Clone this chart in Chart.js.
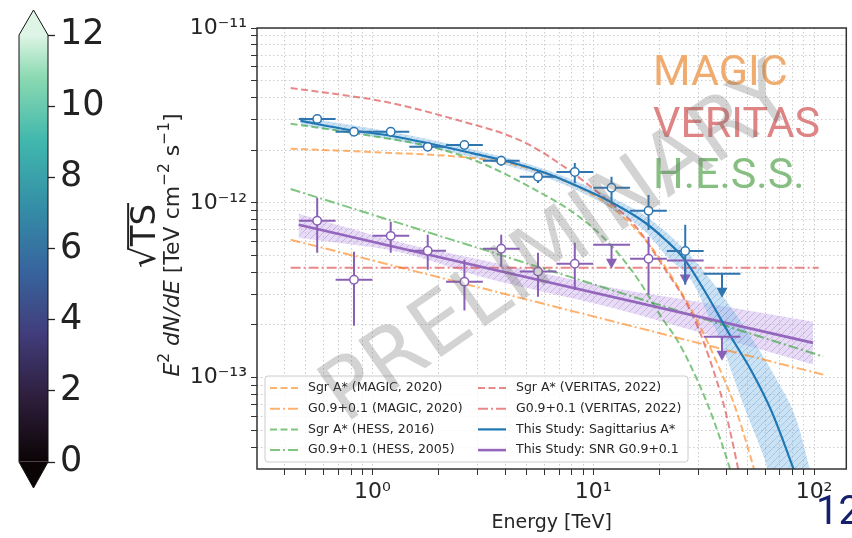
<!DOCTYPE html>
<html>
<head>
<meta charset="utf-8">
<script src="https://cdn.jsdelivr.net/npm/chart.js@4.4.1/dist/chart.umd.min.js"></script>
<style>
  html, body { margin: 0; padding: 0; background: #fff; }
  #wrap { position: relative; width: 852px; height: 538px; overflow: hidden; }
  #cbar { position: absolute; left: 0; top: 0; }
  #sed { position: absolute; left: 150px; top: 0; }
  #page { position: absolute; left: 816px; top: 491px; font: 40px Roboto, sans-serif; color: #14206b; line-height: 1; }
</style>
</head>
<body>
<div id="wrap">
  <canvas id="cbar" width="160" height="538"></canvas>
  <canvas id="sed" width="702" height="538"></canvas>
  <div id="page">12</div>
</div>
<script>
// ---- flux points (E in TeV, E^2 dN/dE in TeV cm^-2 s^-1) ----
const binEdges = [0.464, 0.681, 1.0, 1.468, 2.154, 3.162, 4.642, 6.813, 10.0, 14.68, 21.54, 31.62, 46.42];
const binCenters = [0.562, 0.825, 1.21, 1.78, 2.61, 3.83, 5.62, 8.25, 12.1, 17.8, 26.1, 38.3];

// Sagittarius A*
const sgrFlux = [3.02e-12, 2.55e-12, 2.55e-12, 2.09e-12, 2.14e-12, 1.74e-12, 1.41e-12, 1.50e-12, 1.22e-12, 9.0e-13, 5.3e-13, null];
const sgrLow  = [2.86e-12, 2.42e-12, 2.42e-12, 1.98e-12, 2.03e-12, 1.63e-12, 1.30e-12, 1.30e-12, 1.01e-12, 7.0e-13, 3.4e-13, null];
const sgrHigh = [3.18e-12, 2.69e-12, 2.69e-12, 2.20e-12, 2.26e-12, 1.86e-12, 1.53e-12, 1.69e-12, 1.41e-12, 1.11e-12, 7.48e-13, null];
const sgrUL   = [null, null, null, null, null, null, null, null, null, null, null, 3.93e-13];

// SNR G0.9+0.1
const snrFlux = [7.89e-13, 3.63e-13, 6.47e-13, 5.32e-13, 3.54e-13, 5.46e-13, 4.04e-13, 4.48e-13, null, 4.79e-13, null, null];
const snrLow  = [5.18e-13, 1.98e-13, 5.18e-13, 4.14e-13, 2.42e-13, 4.31e-13, 2.90e-13, 3.18e-13, null, 2.98e-13, null, null];
const snrHigh = [1.07e-12, 5.25e-13, 7.78e-13, 6.56e-13, 4.72e-13, 6.56e-13, 5.18e-13, 5.91e-13, null, 6.39e-13, null, null];
const snrUL   = [null, null, null, null, null, null, null, null, 5.76e-13, null, 4.67e-13, 1.71e-13];

// ---- model curves ----
const magicSgrE = [0.426, 1.0, 2.52, 4.09, 7.27, 12.2, 17.2, 24.2, 29.7, 36.5, 43.5, 52.3, 55.1];
const magicSgrF = [2.04e-12, 1.95e-12, 1.83e-12, 1.69e-12, 1.35e-12, 9.36e-13, 6.15e-13, 3.31e-13, 2.09e-13, 1.20e-13, 7.01e-14, 3.31e-14, 2.61e-14];
const magicSnrE = [0.426, 110];
const magicSnrF = [6.15e-13, 1.04e-13];
const hessSgrE = [0.426, 1.0, 1.85, 3.10, 5.18, 8.66, 12.2, 16.0, 20.3, 24.2, 27.7, 33.0, 37.7, 41.3, 43.0];
const hessSgrF = [2.83e-12, 2.41e-12, 2.09e-12, 1.69e-12, 1.23e-12, 8.3e-13, 5.61e-13, 3.63e-13, 2.23e-13, 1.61e-13, 1.16e-13, 7.01e-14, 4.42e-14, 3.10e-14, 2.61e-14];
const hessSnrE = [0.426, 110];
const hessSnrF = [1.20e-12, 1.32e-13];
const veritasSgrE = [0.426, 1.143, 2.32, 4.72, 7.27, 11.4, 15.6, 21.2, 25.5, 29.7, 34.0, 39.3, 44.9, 46.3];
const veritasSgrF = [4.54e-12, 3.78e-12, 3.02e-12, 2.26e-12, 1.63e-12, 1.05e-12, 7.3e-13, 4.14e-13, 2.90e-13, 1.96e-13, 1.23e-13, 6.74e-14, 3.18e-14, 2.61e-14];
const veritasSnrE = [0.426, 105];
const veritasSnrF = [4.25e-13, 4.25e-13];

const sgrFitE = [0.472, 0.789, 1.228, 1.85, 2.79, 4.35, 6.17, 8.66, 12.2, 17.2, 21.2, 26.0, 32.9, 41.7, 52.3, 64.3, 80.6, 84.0];
const sgrFitF = [2.94e-12, 2.61e-12, 2.41e-12, 2.17e-12, 1.93e-12, 1.69e-12, 1.47e-12, 1.23e-12, 1.0e-12, 7.69e-13, 6.15e-13, 4.72e-13, 2.94e-13, 1.74e-13, 1.08e-13, 6.39e-14, 3.02e-14, 2.61e-14];
const sgrBandUpE = [0.472, 1.228, 2.80, 6.17, 12.2, 17.2, 26.0, 34.0, 48.2, 67.7, 83.1, 95.0, 98.0];
const sgrBandUpF = [3.10e-12, 2.54e-12, 2.03e-12, 1.54e-12, 1.07e-12, 8.43e-13, 5.39e-13, 3.63e-13, 1.96e-13, 9.74e-14, 5.75e-14, 3.10e-14, 2.61e-14];
const sgrBandLoE = [0.472, 1.228, 2.80, 6.17, 12.2, 17.2, 21.8, 27.7, 34.0, 37.7, 41.7, 48.2, 56.8, 61.1, 63.0, 75.0, 98.0];
const sgrBandLoF = [2.79e-12, 2.29e-12, 1.83e-12, 1.39e-12, 9.24e-13, 6.83e-13, 4.85e-13, 3.63e-13, 2.14e-13, 1.65e-13, 1.14e-13, 6.83e-14, 4.03e-14, 3.10e-14, 2.61e-14, 1.0e-14, 3.0e-15];

const snrFitE = [0.463, 99];
const snrFitF = [7.48e-13, 1.58e-13];
const snrBandE = [0.463, 1.361, 3.10, 12.16, 29.73, 99.0];
const snrBandUpF = [8.65e-13, 5.91e-13, 4.72e-13, 3.27e-13, 2.72e-13, 2.09e-13];
const snrBandLoF = [6.31e-13, 5.18e-13, 3.78e-13, 2.51e-13, 1.83e-13, 1.19e-13];

// ---- axes ----
const xGridTicks = [0.4, 0.5, 0.6, 0.7, 0.8, 0.9, 1, 2, 3, 4, 5, 6, 7, 8, 9, 10, 20, 30, 40, 50, 60, 70, 80, 90, 100];
const xMajorTicks = [1, 10, 100];
const xMajorLabels = ['10⁰', '10¹', '10²'];
const yGridTicks = [4e-14, 5e-14, 6e-14, 7e-14, 8e-14, 9e-14, 1e-13, 2e-13, 3e-13, 4e-13, 5e-13, 6e-13, 7e-13, 8e-13, 9e-13,
                    1e-12, 2e-12, 3e-12, 4e-12, 5e-12, 6e-12, 7e-12, 8e-12, 9e-12, 1e-11];
const yMajorTicks = [1e-13, 1e-12, 1e-11];
const yMajorLabels = ['10⁻¹³', '10⁻¹²', '10⁻¹¹'];

// colour bar
const cbTicks = [0, 2, 4, 6, 8, 10, 12];
const makoStops = [0, 0.15, 0.3, 0.45, 0.6, 0.75, 0.9, 1];
const makoColors = ['#0b0405', '#2e1e3c', '#413d7b', '#37659e', '#348fa7', '#40b7ad', '#8ad9b1', '#def5e5'];

const FONT = 'DejaVu Sans';
const ORANGE = 'rgba(255,127,14,0.6)';
const RED = 'rgba(214,39,40,0.55)';
const GREEN = 'rgba(44,160,44,0.6)';
const BLUE = '#1f77b4';
const PURPLE = '#9467bd';
const DASHED = [7, 3.5];
const DASHDOT = [10, 3, 2, 3];

function labelFor(v, majors, labels) {
  const i = majors.findIndex(m => Math.abs(Math.log10(m) - Math.log10(v)) < 1e-6);
  return i >= 0 ? labels[i] : '';
}

function curve(es, fs) {
  return es.map((e, i) => ({ x: e, y: fs[i] }));
}

function fluxPoints(flux, lo, hi) {
  const pts = [];
  binCenters.forEach((e, i) => {
    if (flux[i] == null) return;
    pts.push({ x: e, y: flux[i], yMin: lo[i], yMax: hi[i], xMin: binEdges[i], xMax: binEdges[i + 1] });
  });
  return pts;
}

function limitPoints(ul) {
  const pts = [];
  binCenters.forEach((e, i) => {
    if (ul[i] == null) return;
    pts.push({ x: e, y: ul[i], xMin: binEdges[i], xMax: binEdges[i + 1] });
  });
  return pts;
}

const sedCanvas = document.getElementById('sed');
const sedCtx = sedCanvas.getContext('2d');

function hatch(fill, line) {
  const c = document.createElement('canvas');
  c.width = 7; c.height = 7;
  const g = c.getContext('2d');
  g.fillStyle = fill;
  g.fillRect(0, 0, 7, 7);
  g.strokeStyle = line;
  g.lineWidth = 1;
  g.beginPath();
  g.moveTo(0, 7); g.lineTo(7, 0);
  g.moveTo(-2, 2); g.lineTo(2, -2);
  g.moveTo(5, 9); g.lineTo(9, 5);
  g.stroke();
  return sedCtx.createPattern(c, 'repeat');
}

function modelLine(label, es, fs, color, dash, width) {
  return {
    label: label,
    data: curve(es, fs),
    borderColor: color,
    borderWidth: width || 2,
    borderDash: dash,
    pointRadius: 0,
    fill: false,
    cubicInterpolationMode: 'monotone',
    inLegend: true,
    order: 3
  };
}

function bandEdge(es, fs, fillTo, pattern) {
  return {
    data: curve(es, fs),
    borderWidth: 0,
    borderColor: 'rgba(0,0,0,0)',
    pointRadius: 0,
    backgroundColor: pattern || 'rgba(0,0,0,0)',
    fill: fillTo,
    cubicInterpolationMode: 'monotone',
    order: 5
  };
}

const datasets = [
  { label: 'Sgr A* points', data: fluxPoints(sgrFlux, sgrLow, sgrHigh), showLine: false, errColor: '#2f75b0',
    pointRadius: 4.2, pointBackgroundColor: '#fff', pointBorderColor: '#2f75b0', pointBorderWidth: 1.5, order: 0 },
  { label: 'G0.9+0.1 points', data: fluxPoints(snrFlux, snrLow, snrHigh), showLine: false, errColor: '#8a60b6',
    pointRadius: 4.2, pointBackgroundColor: '#fff', pointBorderColor: '#8a60b6', pointBorderWidth: 1.5, order: 0 },
  { label: 'Sgr A* UL', data: limitPoints(sgrUL), showLine: false, errColor: '#2f75b0', upperLimit: true, pointRadius: 0, order: 1 },
  { label: 'G0.9+0.1 UL', data: limitPoints(snrUL), showLine: false, errColor: '#8a60b6', upperLimit: true, pointRadius: 0, order: 1 },

  modelLine('Sgr A* (MAGIC, 2020)', magicSgrE, magicSgrF, ORANGE, DASHED),
  modelLine('G0.9+0.1 (MAGIC, 2020)', magicSnrE, magicSnrF, ORANGE, DASHDOT),
  modelLine('Sgr A* (HESS, 2016)', hessSgrE, hessSgrF, GREEN, DASHED),
  modelLine('G0.9+0.1 (HESS, 2005)', hessSnrE, hessSnrF, GREEN, DASHDOT),
  modelLine('Sgr A* (VERITAS, 2022)', veritasSgrE, veritasSgrF, RED, DASHED),
  modelLine('G0.9+0.1 (VERITAS, 2022)', veritasSnrE, veritasSnrF, RED, DASHDOT),
  Object.assign(modelLine('This Study: Sagittarius A*', sgrFitE, sgrFitF, BLUE, [], 2.2), { order: 2 }),
  Object.assign(modelLine('This Study: SNR G0.9+0.1', snrFitE, snrFitF, PURPLE, [], 2.6), { order: 2 }),

  bandEdge(sgrBandUpE, sgrBandUpF, '+1', hatch('rgba(130,185,232,0.42)', 'rgba(80,140,200,0.32)')),
  bandEdge(sgrBandLoE, sgrBandLoF, false),
  bandEdge(snrBandE, snrBandUpF, '+1', hatch('rgba(195,165,232,0.4)', 'rgba(150,110,200,0.35)')),
  bandEdge(snrBandE, snrBandLoF, false)
];

// error bars and upper-limit arrows, drawn under each point set
const errorBars = {
  id: 'errorBars',
  beforeDatasetDraw(chart, args) {
    const ds = chart.data.datasets[args.index];
    if (!ds.errColor) return;
    const { ctx, scales: { x, y } } = chart;
    ctx.save();
    ctx.strokeStyle = ds.errColor;
    ctx.fillStyle = ds.errColor;
    ctx.lineWidth = 2;
    ds.data.forEach(p => {
      const px = x.getPixelForValue(p.x);
      const py = y.getPixelForValue(p.y);
      ctx.beginPath();
      ctx.moveTo(x.getPixelForValue(p.xMin), py);
      ctx.lineTo(x.getPixelForValue(p.xMax), py);
      if (ds.upperLimit) {
        ctx.moveTo(px, py);
        ctx.lineTo(px, py + 16);
        ctx.stroke();
        ctx.beginPath();
        ctx.moveTo(px - 5.5, py + 14);
        ctx.lineTo(px + 5.5, py + 14);
        ctx.lineTo(px, py + 24);
        ctx.closePath();
        ctx.fill();
      } else {
        ctx.moveTo(px, y.getPixelForValue(p.yMin));
        ctx.lineTo(px, y.getPixelForValue(p.yMax));
        ctx.stroke();
      }
    });
    ctx.restore();
  }
};

// text with math-style superscripts, drawn along the current x direction
function drawRich(ctx, parts, size, cx, cy) {
  const fontOf = p => (p[1] || 'normal') + ' ' + (p[2] ? size * 0.7 : size) + 'px "' + FONT + '"';
  let total = 0;
  parts.forEach(p => { ctx.font = fontOf(p); total += ctx.measureText(p[0]).width; });
  let tx = cx - total / 2;
  parts.forEach(p => {
    ctx.font = fontOf(p);
    ctx.fillText(p[0], tx, p[2] ? cy - size * 0.38 : cy);
    tx += ctx.measureText(p[0]).width;
  });
}

// frame, legend, y title, experiment names, watermark
const overlay = {
  id: 'overlay',
  afterDraw(chart) {
    const { ctx, chartArea: a } = chart;
    ctx.save();
    ctx.strokeStyle = '#333';
    ctx.lineWidth = 1.5;
    ctx.strokeRect(a.left, a.top, a.right - a.left, a.bottom - a.top);

    // legend
    const items = chart.data.datasets.filter(d => d.inLegend);
    ctx.fillStyle = 'rgba(255,255,255,0.8)';
    ctx.strokeStyle = '#cccccc';
    ctx.lineWidth = 1;
    ctx.beginPath();
    ctx.roundRect(a.left + 8, 376, 423, 86, 3);
    ctx.fill();
    ctx.stroke();
    ctx.font = '12.5px "' + FONT + '"';
    ctx.textBaseline = 'middle';
    items.forEach((d, i) => {
      const col = Math.floor(i / 4);
      const row = i % 4;
      const hx = a.left + (col ? 221 : 13);
      const ty = 388 + row * 20.7;
      ctx.save();
      ctx.setLineDash(d.borderDash || []);
      ctx.strokeStyle = d.borderColor;
      ctx.lineWidth = d.borderWidth;
      ctx.beginPath();
      ctx.moveTo(hx, ty);
      ctx.lineTo(hx + 28, ty);
      ctx.stroke();
      ctx.restore();
      ctx.fillStyle = '#262626';
      ctx.fillText(d.label, hx + 38, ty);
    });

    // y axis title
    ctx.save();
    ctx.translate(21, 245);
    ctx.rotate(-Math.PI / 2);
    ctx.fillStyle = '#262626';
    ctx.textBaseline = 'middle';
    drawRich(ctx, [['E', 'italic'], ['2', 'normal', true], [' dN/dE', 'italic'], [' [TeV cm', 'normal'],
                   ['−2', 'normal', true], [' s', 'normal'], ['−1', 'normal', true], [']', 'normal']], 22, 0, 2);
    ctx.restore();

    // experiment names
    ctx.font = '43px Roboto';
    ctx.textBaseline = 'alphabetic';
    ctx.fillStyle = '#f0ac6e';
    ctx.fillText('MAGIC', 503, 85);
    ctx.fillStyle = '#de8484';
    ctx.fillText('VERITAS', 503, 137);
    ctx.fillStyle = '#87be82';
    ctx.fillText('H.E.S.S.', 503, 188);

    // watermark
    ctx.save();
    ctx.translate(410, 247);
    ctx.rotate(-35 * Math.PI / 180);
    ctx.font = '84px "' + FONT + '"';
    ctx.textAlign = 'center';
    ctx.textBaseline = 'middle';
    ctx.fillStyle = 'rgba(110,110,110,0.3)';
    ctx.fillText('PRELIMINARY', 0, 0);
    ctx.restore();
    ctx.restore();
  }
};

new Chart(sedCtx, {
  type: 'line',
  data: { datasets: datasets },
  options: {
    responsive: false,
    animation: false,
    events: [],
    layout: { padding: { left: 0, top: 28, right: 1, bottom: 0 } },
    plugins: { legend: { display: false }, tooltip: { enabled: false } },
    scales: {
      x: {
        type: 'logarithmic',
        min: 0.313,
        max: 140,
        afterBuildTicks: s => { s.ticks = xGridTicks.map(v => ({ value: v })); },
        afterFit: s => { s.height = 69; },
        ticks: {
          autoSkip: false, maxRotation: 0, minRotation: 0, padding: 4, color: '#262626',
          font: { family: FONT, size: 22 },
          callback: v => labelFor(v, xMajorTicks, xMajorLabels)
        },
        grid: { color: '#cccccc', lineWidth: 1, tickLength: 6, tickColor: '#333', tickWidth: 1 },
        border: { display: false, dash: [1.5, 2.5] },
        title: { display: true, text: 'Energy [TeV]', color: '#262626', font: { family: FONT, size: 19 }, padding: { top: 0, bottom: 4 } }
      },
      y: {
        type: 'logarithmic',
        min: 3e-14,
        max: 1e-11,
        afterBuildTicks: s => { s.ticks = yGridTicks.map(v => ({ value: v })); },
        afterFit: s => { s.width = 107; },
        ticks: {
          autoSkip: false, padding: 4, color: '#262626',
          font: { family: FONT, size: 22 },
          callback: v => labelFor(v, yMajorTicks, yMajorLabels)
        },
        grid: { color: '#cccccc', lineWidth: 1, tickLength: 6, tickColor: '#333', tickWidth: 1 },
        border: { display: false, dash: [1.5, 2.5] }
      }
    }
  },
  plugins: [errorBars, overlay]
});

// ---- colour bar (sqrt TS) ----
const cbarOutline = {
  id: 'cbarOutline',
  afterDraw(chart) {
    const { ctx, chartArea: a } = chart;
    const mid = (a.left + a.right) / 2;
    ctx.save();
    ctx.fillStyle = makoColors[makoColors.length - 1];
    ctx.beginPath();
    ctx.moveTo(a.left, a.top); ctx.lineTo(mid, a.top - 25); ctx.lineTo(a.right, a.top);
    ctx.closePath(); ctx.fill();
    ctx.fillStyle = makoColors[0];
    ctx.beginPath();
    ctx.moveTo(a.left, a.bottom); ctx.lineTo(mid, a.bottom + 26); ctx.lineTo(a.right, a.bottom);
    ctx.closePath(); ctx.fill();
    ctx.strokeStyle = '#111';
    ctx.lineWidth = 1;
    ctx.beginPath();
    ctx.moveTo(a.left, a.top); ctx.lineTo(mid, a.top - 25); ctx.lineTo(a.right, a.top);
    ctx.lineTo(a.right, a.bottom); ctx.lineTo(mid, a.bottom + 26); ctx.lineTo(a.left, a.bottom);
    ctx.closePath(); ctx.stroke();

    // label
    ctx.translate(143, 236);
    ctx.rotate(-Math.PI / 2);
    ctx.font = '34px "' + FONT + '"';
    ctx.fillStyle = '#222';
    ctx.textBaseline = 'alphabetic';
    const w1 = ctx.measureText('√').width;
    const w2 = ctx.measureText('TS').width;
    const x0 = -(w1 + w2) / 2;
    ctx.fillText('√', x0, 12);
    ctx.fillText('TS', x0 + w1, 12);
    ctx.strokeStyle = '#222';
    ctx.lineWidth = 2;
    ctx.beginPath();
    ctx.moveTo(x0 + w1 * 0.85, 12 - 34 * 0.79);
    ctx.lineTo(x0 + w1 + w2 + 1, 12 - 34 * 0.79);
    ctx.stroke();
    ctx.restore();
  }
};

new Chart(document.getElementById('cbar').getContext('2d'), {
  type: 'bar',
  data: {
    labels: ['√TS'],
    datasets: [{
      data: [[cbTicks[0], cbTicks[cbTicks.length - 1]]],
      borderWidth: 0,
      barPercentage: 1,
      categoryPercentage: 1,
      backgroundColor: c => {
        const ch = c.chart;
        if (!ch.chartArea) return makoColors[3];
        const ys = ch.scales.y;
        const g = ch.ctx.createLinearGradient(0, ys.getPixelForValue(cbTicks[0]), 0, ys.getPixelForValue(cbTicks[cbTicks.length - 1]));
        makoStops.forEach((s, i) => g.addColorStop(s, makoColors[i]));
        return g;
      }
    }]
  },
  options: {
    responsive: false,
    animation: false,
    events: [],
    layout: { padding: { left: 19, top: 35, right: 0, bottom: 76 } },
    plugins: { legend: { display: false }, tooltip: { enabled: false } },
    scales: {
      x: { display: false },
      y: {
        position: 'right',
        min: cbTicks[0],
        max: cbTicks[cbTicks.length - 1],
        afterBuildTicks: s => { s.ticks = cbTicks.map(v => ({ value: v })); },
        afterFit: s => { s.width = 112; },
        ticks: { color: '#222', padding: 5, font: { family: FONT, size: 35 } },
        grid: { drawOnChartArea: false, drawTicks: true, tickLength: 7, tickColor: '#222', tickWidth: 1.3 },
        border: { display: false }
      }
    }
  },
  plugins: [cbarOutline]
});
</script>
</body>
</html>
